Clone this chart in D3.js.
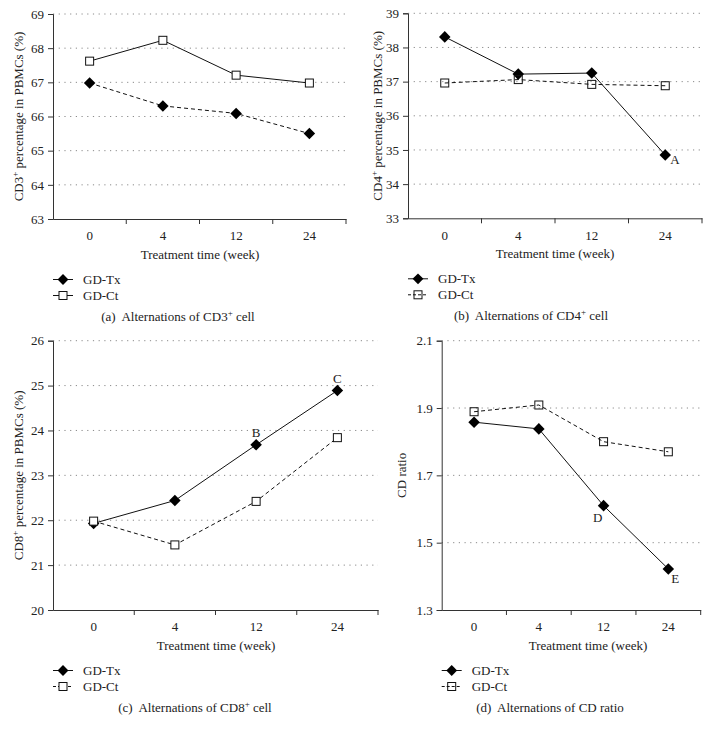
<!DOCTYPE html>
<html><head><meta charset="utf-8">
<script src="https://cdn.jsdelivr.net/npm/d3@7"></script>
<style>body{margin:0;background:#fff}svg{display:block}text{font-family:"Liberation Serif","Times New Roman",serif;fill:#222;white-space:pre}</style>
</head><body><svg id="c" width="710" height="735"></svg>
<script>
const weeks = ["0", "4", "12", "24"];
const cd3Tx = [66.98, 66.31, 66.09, 65.50];
const cd3Ct = [67.62, 68.23, 67.21, 66.98];
const cd4Tx = [38.31, 37.22, 37.25, 34.85];
const cd4Ct = [36.96, 37.06, 36.92, 36.88];
const cd8Tx = [21.93, 22.44, 23.68, 24.89];
const cd8Ct = [21.98, 21.45, 22.42, 23.84];
const ratioTx = [1.858, 1.838, 1.610, 1.422];
const ratioCt = [1.889, 1.909, 1.800, 1.770];
const cd3Ticks = [63, 64, 65, 66, 67, 68, 69];
const cd4Ticks = [33, 34, 35, 36, 37, 38, 39];
const cd8Ticks = [20, 21, 22, 23, 24, 25, 26];
const ratioTicks = [1.3, 1.5, 1.7, 1.9, 2.1];
const seriesNames = ["GD-Tx", "GD-Ct"];

const svg = d3.select("#c");
const diamond = d3.symbol().type(d3.symbolDiamond2);

const panels = [
  {L:53, R:346, T:14, B:219, tx:cd3Tx, ct:cd3Ct, ticks:cd3Ticks, fmt:d3.format("d"),
   ylab:["CD3","+"," percentage in PBMCs (%)"], ylx:23, txDash:"4,3", ctDash:null, ctFill:"#fff",
   legTxDash:null, legCtDash:null, titleX:200, capX:178, cap:["(a)  Alternations of CD3","+"," cell"], notes:[]},
  {L:408, R:702, T:13.3, B:218.3, tx:cd4Tx, ct:cd4Ct, ticks:cd4Ticks, fmt:d3.format("d"),
   ylab:["CD4","+"," percentage in PBMCs (%)"], ylx:382, txDash:null, ctDash:"4,3", ctFill:"none",
   legTxDash:null, legCtDash:"3,2", titleX:555, capX:531, cap:["(b)  Alternations of CD4","+"," cell"],
   notes:[{s:"tx", i:3, t:"A", dx:5, dy:9, a:"start"}]},
  {L:53, R:378, T:340.7, B:610, tx:cd8Tx, ct:cd8Ct, ticks:cd8Ticks, fmt:d3.format("d"),
   ylab:["CD8","+"," percentage in PBMCs (%)"], ylx:23, txDash:null, ctDash:"4,3", ctFill:"#fff",
   legTxDash:null, legCtDash:"3,2", titleX:216, capX:195, cap:["(c)  Alternations of CD8","+"," cell"],
   notes:[{s:"tx", i:2, t:"B", dx:0, dy:-8, a:"middle"},{s:"tx", i:3, t:"C", dx:0, dy:-8, a:"middle"}]},
  {L:441.7, R:700.7, T:340.7, B:610, tx:ratioTx, ct:ratioCt, ticks:ratioTicks, fmt:d3.format(".1f"),
   ylab:["CD ratio","",""], ylx:406, txDash:null, ctDash:"4,3", ctFill:"none",
   legTxDash:null, legCtDash:"3,2", titleX:588, capX:550, cap:["(d)  Alternations of CD ratio","",""],
   notes:[{s:"tx", i:2, t:"D", dx:-6, dy:16, a:"middle"},{s:"tx", i:3, t:"E", dx:7, dy:14, a:"middle"}]}
];

function richText(sel, parts){
  sel.append("tspan").text(parts[0]);
  if (parts[1]) sel.append("tspan").attr("font-size","9px").attr("baseline-shift","super").text(parts[1]);
  if (parts[2]) sel.append("tspan").text(parts[2]);
}

panels.forEach(p => {
  const g = svg.append("g");
  const x = d3.scaleBand().domain(weeks).range([p.L, p.R]);
  const y = d3.scaleLinear().domain([p.ticks[0], p.ticks[p.ticks.length-1]]).range([p.B, p.T]);

  // gridlines
  g.append("g").selectAll("line").data(p.ticks.slice(1)).join("line")
    .attr("x1", p.L).attr("x2", p.R).attr("y1", d => y(d)).attr("y2", d => y(d))
    .attr("stroke", "#8a8a8a").attr("stroke-width", 1).attr("stroke-dasharray", "1.2,4.5");

  // y axis
  const ya = g.append("g").attr("transform", `translate(${p.L},0)`)
    .call(d3.axisLeft(y).tickValues(p.ticks).tickFormat(p.fmt).tickSize(5).tickPadding(4));
  ya.select(".domain").attr("stroke", "#333");
  ya.selectAll(".tick line").attr("stroke", "#333");
  ya.selectAll("text").attr("font-size", "13px").attr("font-family", "Liberation Serif").attr("fill", "#222");

  // x axis
  const xa = g.append("g").attr("transform", `translate(0,${p.B})`)
    .call(d3.axisBottom(x).tickSize(0).tickPadding(12));
  xa.select(".domain").attr("stroke", "#333");
  xa.selectAll("text").attr("font-size", "13px").attr("font-family", "Liberation Serif").attr("fill", "#222");
  g.append("g").selectAll("line").data(weeks).join("line")
    .attr("x1", d => x(d) + x.bandwidth()).attr("x2", d => x(d) + x.bandwidth())
    .attr("y1", p.B).attr("y2", p.B + 5).attr("stroke", "#333");

  // lines
  const line = d3.line().x((d, i) => x(weeks[i]) + x.bandwidth()/2).y(d => y(d));
  g.append("path").attr("d", line(p.tx)).attr("fill", "none").attr("stroke", "#111")
    .attr("stroke-width", 1).attr("stroke-dasharray", p.txDash);
  g.append("path").attr("d", line(p.ct)).attr("fill", "none").attr("stroke", "#111")
    .attr("stroke-width", 1).attr("stroke-dasharray", p.ctDash);

  // markers
  g.append("g").selectAll("path").data(p.tx).join("path")
    .attr("transform", (d, i) => `translate(${x(weeks[i]) + x.bandwidth()/2},${y(d)})`)
    .attr("d", diamond.size(85)).attr("fill", "#000");
  g.append("g").selectAll("rect").data(p.ct).join("rect")
    .attr("x", (d, i) => x(weeks[i]) + x.bandwidth()/2 - 4).attr("y", d => y(d) - 4)
    .attr("width", 8).attr("height", 8).attr("fill", p.ctFill).attr("stroke", "#111").attr("stroke-width", 1);

  // annotations
  p.notes.forEach(n => {
    const vals = n.s === "tx" ? p.tx : p.ct;
    g.append("text").attr("x", x(weeks[n.i]) + x.bandwidth()/2 + n.dx).attr("y", y(vals[n.i]) + n.dy)
      .attr("text-anchor", n.a).attr("font-size", "13px").text(n.t);
  });

  // y label
  const yl = g.append("text").attr("transform", `translate(${p.ylx},${(p.T + p.B)/2}) rotate(-90)`)
    .attr("text-anchor", "middle").attr("font-size", "13px");
  richText(yl, p.ylab);

  // x title
  g.append("text").attr("x", p.titleX).attr("y", p.B + 40).attr("text-anchor", "middle")
    .attr("font-size", "13px").text("Treatment time (week)");

  // legend
  const lx = p.L;
  [0, 1].forEach(k => {
    const ly = p.B + (k === 0 ? 60.5 : 76.5);
    const lg = g.append("g");
    lg.append("line").attr("x1", lx).attr("x2", lx + 20).attr("y1", ly).attr("y2", ly)
      .attr("stroke", "#111").attr("stroke-dasharray", k === 0 ? p.legTxDash : p.legCtDash);
    if (k === 0) {
      lg.append("path").attr("transform", `translate(${lx + 10},${ly})`).attr("d", diamond.size(75)).attr("fill", "#000");
    } else {
      lg.append("rect").attr("x", lx + 6).attr("y", ly - 4).attr("width", 8).attr("height", 8)
        .attr("fill", p.ctFill).attr("stroke", "#111");
    }
    lg.append("text").attr("x", lx + 30).attr("y", ly + 4.5).attr("font-size", "13px").text(seriesNames[k]);
  });

  // caption
  const cp = g.append("text").attr("x", p.capX).attr("y", p.B + 102).attr("text-anchor", "middle").attr("font-size", "13px");
  richText(cp, p.cap);
});
</script></body></html>
